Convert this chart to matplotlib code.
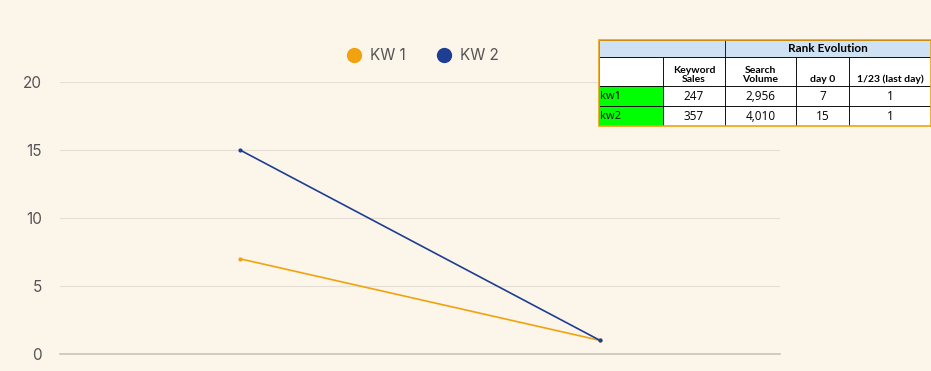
import matplotlib.pyplot as plt
from matplotlib.lines import Line2D
from matplotlib.patches import Rectangle

# chart data
points = ["day 0", "1/23"]
kw1 = [7, 1]
kw2 = [15, 1]
series_names = ["KW 1", "KW 2"]
colors = ["#F0A30E", "#1E3E94"]

# table data
tbl_cols = ["", "Keyword\nSales", "Search\nVolume", "day 0", "1/23 (last day)"]
tbl_rows = [["kw1", "247", "2,956", "7", "1"],
            ["kw2", "357", "4,010", "15", "1"]]
col_w = [64, 62, 71, 53, 82]

bg = "#FCF5EA"
plt.rcParams['font.family'] = ['Inter', 'DejaVu Sans']

fig = plt.figure(figsize=(9.31, 3.71), dpi=100, facecolor=bg)
ax = fig.add_axes([60/931, 1 - 354/371, 720/931, 272/371])
ax.set_facecolor(bg)

x = range(len(points))
ax.plot(x, kw1, color=colors[0], lw=1.2, marker="o", ms=2)
ax.plot(x, kw2, color=colors[1], lw=1.2, marker="o", ms=2)

ax.set_xlim(-0.5, 1.5)
ax.set_ylim(0, 20)
ax.set_yticks([0, 5, 10, 15, 20])
ax.set_xticks([])
ax.grid(axis="y", color="#E6DFD5", lw=0.8)
ax.set_axisbelow(True)
for s in ["top", "right", "left"]:
    ax.spines[s].set_visible(False)
ax.spines["bottom"].set_color("#C9C4BB")
ax.spines["bottom"].set_linewidth(1.2)
ax.tick_params(axis="y", length=0, pad=13, labelsize=11, labelcolor="#555555")

handles = [Line2D([], [], ls="", marker="o", ms=10, color=c) for c in colors]
fig.legend(handles, series_names, loc="center", bbox_to_anchor=(419/931, 1 - 56/371),
           ncol=2, frameon=False, labelcolor="#555555",
           handletextpad=0.05, columnspacing=1.5, prop={"size": 11})

# table drawn in its own axes (pixel units)
tw = sum(col_w)
th = 86
tax = fig.add_axes([599/931, 1 - 126/371, tw/931, th/371])
tax.set_xlim(0, tw)
tax.set_ylim(th, 0)
tax.axis("off")
row_h = [17, 29, 20, 20]
row_y = [0, 17, 46, 66]
col_x = [sum(col_w[:i]) for i in range(len(col_w))]
hf = ['Lato', 'DejaVu Sans']
tf = ['Open Sans', 'DejaVu Sans']

# header row
tax.add_patch(Rectangle((0, 0), tw, row_h[0], fc="#CFE2F3", ec="black", lw=0.6))
tax.add_patch(Rectangle((col_x[2], 0), tw - col_x[2], row_h[0], fc="#CFE2F3", ec="black", lw=0.6))
tax.text((col_x[2] + tw) / 2, row_h[0] / 2 + 0.5, "Rank Evolution", ha="center", va="center",
         fontsize=8.5, fontweight="bold", family=hf)
# column header row
for i, c in enumerate(tbl_cols):
    tax.add_patch(Rectangle((col_x[i], row_y[1]), col_w[i], row_h[1], fc="white", ec="black", lw=0.6))
    tax.text(col_x[i] + col_w[i] / 2, row_y[1] + row_h[1] - 2, c, ha="center", va="bottom",
             fontsize=7.5, fontweight="bold", family=hf, linespacing=1.05)
# data rows
for r, row in enumerate(tbl_rows):
    y0 = row_y[2 + r]
    for i, v in enumerate(row):
        fc = "#00FF00" if i == 0 else "white"
        tax.add_patch(Rectangle((col_x[i], y0), col_w[i], row_h[2 + r], fc=fc, ec="black", lw=0.6))
        if i == 0:
            tax.text(col_x[i] + 1, y0 + row_h[2 + r] / 2 + 1, v, ha="left", va="center",
                     fontsize=8, family=tf)
        else:
            tax.text(col_x[i] + col_w[i] / 2, y0 + row_h[2 + r] / 2 + 1, v, ha="center",
                     va="center", fontsize=8.5, family=tf)
tax.add_patch(Rectangle((0, 0), tw, th, fc="none", ec="#F0A30E", lw=1.2, clip_on=False))

fig.savefig("out.png", dpi=100, facecolor=bg)
